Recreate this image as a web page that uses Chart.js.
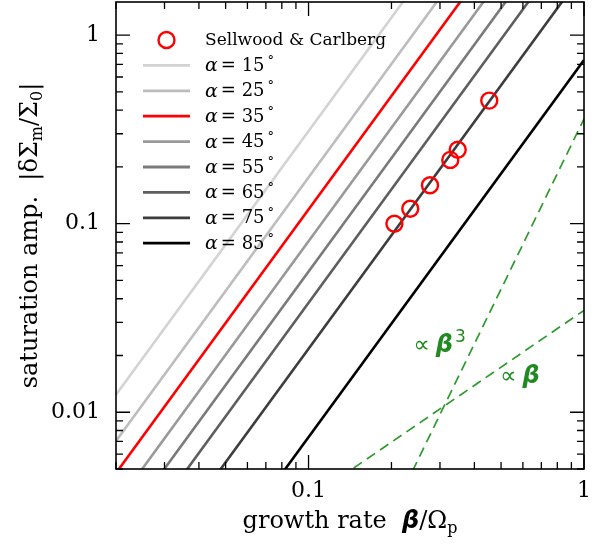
<!DOCTYPE html>
<html>
<head>
<meta charset="utf-8">
<script src="https://cdn.jsdelivr.net/npm/chart.js@4/dist/chart.umd.min.js"></script>
<style>
  html, body { margin: 0; padding: 0; background: #fff; }
  canvas { display: block; }
</style>
</head>
<body>
<canvas id="chart" width="600" height="547"></canvas>
<script>
// Sellwood & Carlberg points
const betaSC = [0.205, 0.234, 0.276, 0.327, 0.348, 0.453];
const ampSC = [0.100, 0.120, 0.160, 0.218, 0.247, 0.450];

// saturation lines, one per alpha, read at the two ends of the x range
const alphas = [15, 25, 35, 45, 55, 65, 75, 85];
const lineBeta = [0.02, 1];
const ampAtStart = [0.0124, 0.00704, 0.00476, 0.00323, 0.00223, 0.00152, 0.000868, 0.000295];
const ampAtEnd = [31, 17.6, 11.9, 8.07, 5.57, 3.81, 2.17, 0.738];
const lineColors = ['#d3d3d3', '#bdbdbd', '#ff0000', '#999999', '#7a7a7a', '#5e5e5e', '#3d3d3d', '#000000'];

// guide lines
const betaLinear = [0.02, 1];
const ampLinear = [0.000694, 0.0347];
const betaCubic = [0.2, 1];
const ampCubic = [0.00288, 0.36];

// axis ticks
const xMajor = [0.1, 1];
const yMajor = [0.01, 0.1, 1];

const SERIF = '"DejaVu Serif", serif';
const SANS = '"DejaVu Sans", sans-serif';
const GREEN = '#2f9a2f';

const pts = (xs, ys) => xs.map((x, i) => ({ x: x, y: ys[i] }));

const datasets = alphas.map((a, i) => ({
  label: 'α = ' + a,
  data: pts(lineBeta, [ampAtStart[i], ampAtEnd[i]]),
  showLine: true,
  borderColor: lineColors[i],
  borderWidth: 2.6,
  pointRadius: 0,
  order: 5
}));

datasets.push({
  label: 'linear',
  data: pts(betaLinear, ampLinear),
  showLine: true,
  borderColor: GREEN,
  borderWidth: 1.7,
  borderDash: [10, 6],
  pointRadius: 0,
  order: 6
});
datasets.push({
  label: 'cubic',
  data: pts(betaCubic, ampCubic),
  showLine: true,
  borderColor: GREEN,
  borderWidth: 1.7,
  borderDash: [10, 6],
  pointRadius: 0,
  order: 6
});
datasets.push({
  label: 'Sellwood & Carlberg',
  data: pts(betaSC, ampSC),
  showLine: false,
  pointStyle: 'circle',
  pointRadius: 8,
  pointBorderWidth: 2.4,
  pointBorderColor: '#ff0000',
  pointBackgroundColor: 'rgba(0,0,0,0)',
  order: 0
});

// draw a run of text pieces, each with its own font and baseline shift
function drawRich(ctx, parts, x, y, align) {
  let total = 0;
  parts.forEach(p => { ctx.font = p.font; p.w = ctx.measureText(p.t).width; total += p.w + (p.gap || 0); });
  let cx = align === 'center' ? x - total / 2 : x;
  parts.forEach(p => {
    ctx.font = p.font;
    ctx.fillText(p.t, cx, y + (p.dy || 0));
    cx += p.w + (p.gap || 0);
  });
}

function isPow10(v) {
  const l = Math.log10(v);
  return Math.abs(l - Math.round(l)) < 1e-9;
}

const framePlugin = {
  id: 'frame',
  afterDatasetsDraw(chart) {
    const ctx = chart.ctx;
    const a = chart.chartArea;
    const xs = chart.scales.x, ys = chart.scales.y;
    ctx.save();
    ctx.strokeStyle = '#000';
    ctx.lineWidth = 1.3;

    // inward ticks on all four sides
    const minorX = [];
    for (let d = -2; d <= 0; d++) for (let m = 1; m <= 9; m++) minorX.push(m * Math.pow(10, d));
    minorX.forEach(v => {
      if (v < xs.min - 1e-12 || v > xs.max + 1e-12) return;
      const px = xs.getPixelForValue(v);
      const len = isPow10(v) ? 14 : 7;
      ctx.beginPath();
      ctx.moveTo(px, a.bottom); ctx.lineTo(px, a.bottom - len);
      ctx.moveTo(px, a.top); ctx.lineTo(px, a.top + len);
      ctx.stroke();
    });
    const minorY = [];
    for (let d = -3; d <= 0; d++) for (let m = 1; m <= 9; m++) minorY.push(m * Math.pow(10, d));
    minorY.forEach(v => {
      if (v < ys.min - 1e-12 || v > ys.max + 1e-12) return;
      const py = ys.getPixelForValue(v);
      const len = isPow10(v) ? 14 : 7;
      ctx.beginPath();
      ctx.moveTo(a.left, py); ctx.lineTo(a.left + len, py);
      ctx.moveTo(a.right, py); ctx.lineTo(a.right - len, py);
      ctx.stroke();
    });

    ctx.lineWidth = 1.6;
    ctx.strokeRect(a.left, a.top, a.right - a.left, a.bottom - a.top);

    // legend
    ctx.fillStyle = '#000';
    ctx.textBaseline = 'middle';
    ctx.textAlign = 'left';
    const rowY0 = 40, rowH = 25.4, lx0 = 143, lx1 = 190, tx = 205;
    const sc = chart.data.datasets[chart.data.datasets.length - 1];
    ctx.beginPath();
    ctx.arc((lx0 + lx1) / 2, rowY0, 8, 0, Math.PI * 2);
    ctx.strokeStyle = sc.pointBorderColor;
    ctx.lineWidth = 2.4;
    ctx.stroke();
    ctx.font = '17px ' + SERIF;
    ctx.fillText(sc.label, tx, rowY0 + 1);
    alphas.forEach((al, i) => {
      const y = rowY0 + rowH * (i + 1);
      ctx.beginPath();
      ctx.moveTo(lx0, y); ctx.lineTo(lx1, y);
      ctx.strokeStyle = lineColors[i];
      ctx.lineWidth = 2.8;
      ctx.stroke();
      drawRich(ctx, [
        { t: 'α', font: 'italic 19px ' + SERIF, gap: 3 },
        { t: '= ' + al, font: '18px ' + SERIF, gap: 3 },
        { t: '°', font: '13px ' + SERIF, dy: -5 }
      ], tx, y + 1, 'left');
    });

    // guide line annotations
    ctx.fillStyle = '#1f8a1f';
    let p = { x: xs.getPixelForValue(0.24), y: ys.getPixelForValue(0.0224) };
    drawRich(ctx, [
      { t: '∝', font: '23px ' + SANS, gap: 6 },
      { t: 'β', font: 'italic bold 24px ' + SANS, gap: 2 },
      { t: '3', font: '17px ' + SANS, dy: -9 }
    ], p.x, p.y, 'left');
    p = { x: xs.getPixelForValue(0.496), y: ys.getPixelForValue(0.01536) };
    drawRich(ctx, [
      { t: '∝', font: '23px ' + SANS, gap: 6 },
      { t: 'β', font: 'italic bold 24px ' + SANS }
    ], p.x, p.y, 'left');

    // axis titles
    ctx.fillStyle = '#000';
    ctx.textBaseline = 'alphabetic';
    const f = '24px ' + SERIF, fs = '16px ' + SERIF;
    drawRich(ctx, [
      { t: 'growth rate  ', font: f },
      { t: 'β', font: 'italic bold 24px ' + SANS },
      { t: '/Ω', font: f },
      { t: 'p', font: fs, dy: 5 }
    ], (a.left + a.right) / 2, 528, 'center');

    ctx.save();
    ctx.translate(37, (a.top + a.bottom) / 2);
    ctx.rotate(-Math.PI / 2);
    drawRich(ctx, [
      { t: 'saturation amp.  |δΣ', font: f },
      { t: 'm', font: fs, dy: 5 },
      { t: '/Σ', font: f },
      { t: '0', font: fs, dy: 5 },
      { t: '|', font: f }
    ], 0, 0, 'center');
    ctx.restore();
    ctx.restore();
  }
};

const tickLabel = (majors) => (v) => {
  const hit = majors.find(m => Math.abs(m - v) / m < 1e-6);
  return hit === undefined ? '' : String(hit);
};

new Chart(document.getElementById('chart'), {
  type: 'scatter',
  data: { datasets: datasets },
  options: {
    responsive: false,
    animation: false,
    devicePixelRatio: 1,
    layout: { autoPadding: false, padding: { top: 2, right: 16, left: 0, bottom: 0 } },
    plugins: {
      legend: { display: false },
      tooltip: { enabled: false }
    },
    scales: {
      x: {
        type: 'logarithmic',
        min: 0.02,
        max: 1,
        grid: { display: false, drawTicks: false },
        border: { display: false },
        ticks: {
          autoSkip: false,
          maxRotation: 0,
          padding: 9,
          color: '#000',
          font: { family: SERIF, size: 22 },
          callback: tickLabel(xMajor)
        },
        afterFit: s => { s.height = 78; s.paddingLeft = 0; s.paddingRight = 0; }
      },
      y: {
        type: 'logarithmic',
        min: 0.005,
        max: 1.5,
        grid: { display: false, drawTicks: false },
        border: { display: false },
        ticks: {
          autoSkip: false,
          padding: 16,
          color: '#000',
          font: { family: SERIF, size: 22 },
          callback: tickLabel(yMajor)
        },
        afterFit: s => { s.width = 116; s.paddingTop = 0; s.paddingBottom = 0; }
      }
    }
  },
  plugins: [framePlugin]
});
</script>
</body>
</html>
